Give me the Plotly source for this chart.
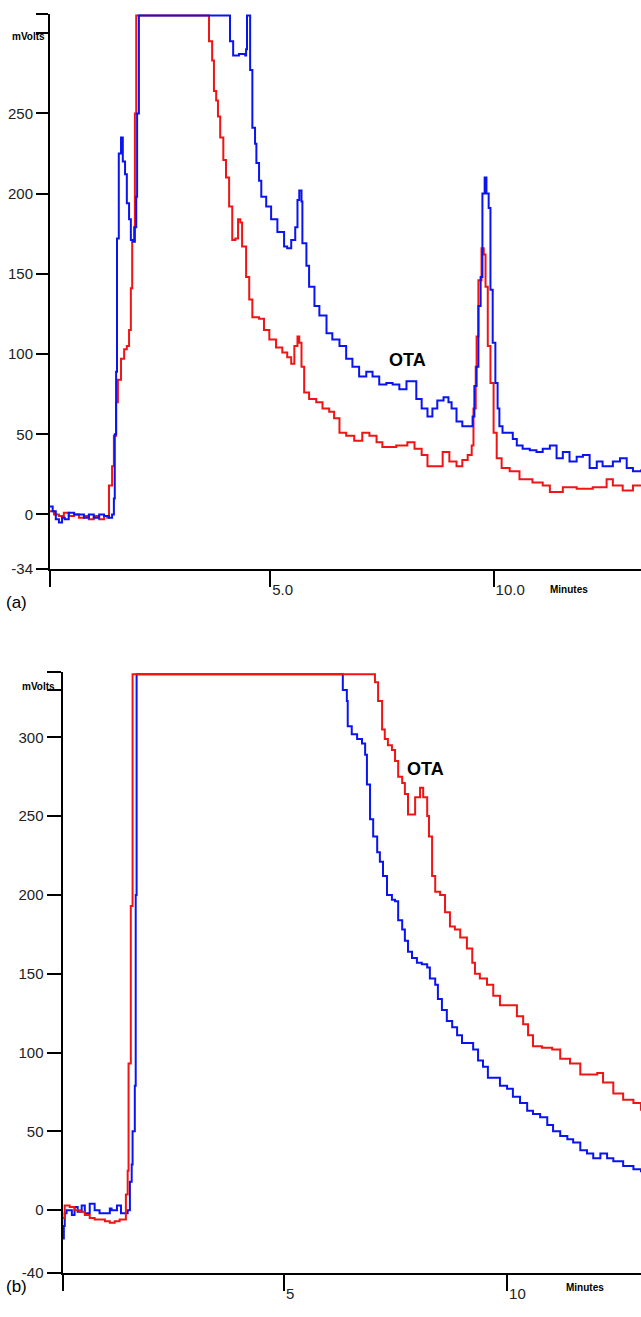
import plotly.graph_objects as go

# ---------------- Panel (a) ----------------
a_blue_t = [0.07, 0.13, 0.20, 0.27, 0.34, 0.40, 0.49, 0.61, 0.72, 0.83, 0.94, 1.05, 1.17, 1.28, 1.39, 1.46,
            1.50, 1.52, 1.55, 1.57, 1.61, 1.66, 1.70, 1.75, 1.79, 1.84, 1.88, 1.93, 1.97, 2.00, 2.02, 2.06,
            4.06, 4.10, 4.17, 4.30, 4.44, 4.46, 4.48, 4.53, 4.55, 4.60, 4.66, 4.69, 4.75, 4.80, 4.91, 5.02,
            5.16, 5.31, 5.38, 5.47, 5.56, 5.61, 5.65, 5.70, 5.72, 5.81, 5.87, 5.99, 6.10, 6.26, 6.39, 6.55,
            6.70, 6.84, 6.99, 7.15, 7.29, 7.44, 7.60, 7.74, 7.89, 8.05, 8.18, 8.27, 8.39, 8.52, 8.63, 8.74,
            8.88, 8.99, 9.06, 9.17, 9.30, 9.46, 9.53, 9.57, 9.62, 9.66, 9.71, 9.75, 9.80, 9.84, 9.89, 9.93,
            9.98, 10.04, 10.09, 10.13, 10.20, 10.31, 10.43, 10.52, 10.65, 10.81, 10.96, 11.10, 11.26, 11.41,
            11.55, 11.70, 11.86, 12.00, 12.15, 12.31, 12.44, 12.67, 12.83, 12.98, 13.12, 13.30]
a_blue_v = [5, 2, -3, -5, -2, -3, 1, 0, 0, -2, 0, -2, 0, -1, -2, 0,
            10, 50, 89, 172, 225, 235, 220, 212, 194, 184, 171, 170, 179, 198, 250, 311,
            311, 295, 286, 287, 286, 290, 311, 311, 277, 241, 231, 219, 208, 198, 192, 184,
            176, 167, 166, 171, 179, 196, 202, 195, 169, 155, 142, 130, 124, 113, 109, 105,
            97, 92, 86, 89, 86, 81, 82, 81, 78, 83, 83, 72, 66, 61, 66, 71,
            73, 70, 66, 58, 55, 55, 61, 80, 92, 130, 148, 200, 210, 200, 191, 140,
            107, 82, 66, 55, 51, 51, 47, 43, 41, 40, 39, 41, 43, 35,
            39, 33, 36, 37, 29, 33, 30, 33, 35, 29, 27, 28]

a_red_t = [0.07, 0.16, 0.27, 0.38, 0.49, 0.61, 0.72, 0.83, 0.94, 1.05, 1.17, 1.28, 1.35, 1.39, 1.46, 1.50,
           1.55, 1.59, 1.66, 1.73, 1.79, 1.84, 1.88, 1.91, 1.95, 1.97, 2.00,
           3.56, 3.63, 3.70, 3.74, 3.79, 3.83, 3.88, 3.95, 4.01, 4.08, 4.15, 4.22, 4.28, 4.33, 4.37, 4.46,
           4.53, 4.60, 4.75, 4.86, 4.98, 5.13, 5.27, 5.38, 5.47, 5.54, 5.61, 5.65, 5.70, 5.76, 5.87, 6.03,
           6.17, 6.32, 6.43, 6.55, 6.70, 6.88, 7.06, 7.22, 7.38, 7.51, 7.67, 7.82, 7.96, 8.07, 8.23, 8.39,
           8.52, 8.72, 8.86, 9.01, 9.17, 9.30, 9.42, 9.51, 9.55, 9.60, 9.62, 9.66, 9.73, 9.78, 9.82, 9.87,
           9.93, 10.00, 10.07, 10.18, 10.36, 10.58, 10.87, 11.10, 11.26, 11.55, 11.86, 12.22, 12.53, 12.67,
           12.89, 13.12, 13.30]
a_red_v = [2, 0, -1, 1, -1, 0, -2, -1, -3, -1, -3, -1, -2, 18, 30, 49,
           70, 84, 97, 103, 105, 115, 141, 171, 179, 250, 311,
           311, 295, 283, 264, 258, 248, 235, 221, 210, 192, 171, 172, 184, 182, 167, 148,
           134, 123, 122, 115, 109, 104, 101, 98, 94, 105, 111, 107, 92, 76, 72, 70,
           66, 64, 60, 51, 49, 46, 51, 49, 45, 42, 42, 43, 43, 45, 41, 37,
           30, 30, 39, 33, 30, 34, 37, 43, 66, 92, 111, 146, 166, 162, 142, 105,
           82, 51, 35, 29, 27, 22, 20, 18, 14, 17, 16, 17, 22, 18,
           15, 18, 18]

# ---------------- Panel (b) ----------------
b_blue_t = [0.04, 0.07, 0.09, 0.13, 0.25, 0.31, 0.38, 0.47, 0.54, 0.65, 0.76, 0.87, 0.99, 1.10, 1.14, 1.26,
            1.35, 1.43, 1.50, 1.55, 1.59, 1.61, 1.66, 1.68, 1.70,
            6.28, 6.32, 6.41, 6.43, 6.52, 6.64, 6.75, 6.82, 6.86, 6.93, 7.00, 7.09, 7.15, 7.22, 7.31, 7.42,
            7.49, 7.56, 7.65, 7.71, 7.78, 7.87, 7.98, 8.09, 8.21, 8.27, 8.39, 8.45, 8.54, 8.65, 8.77, 8.88,
            8.99, 9.10, 9.24, 9.35, 9.46, 9.57, 9.69, 9.84, 10.00, 10.13, 10.29, 10.45, 10.58, 10.74, 10.90,
            11.03, 11.19, 11.35, 11.48, 11.64, 11.79, 11.93, 12.09, 12.24, 12.38, 12.60, 12.83, 13.00]
b_blue_v = [-18, -10, -2, 0, -3, 2, -1, 3, -2, 4, 0, -2, -2, 1, 0, 3,
            -2, -2, 0, 18, 29, 50, 79, 200, 340,
            340, 330, 323, 307, 302, 299, 296, 289, 270, 248, 237, 227, 221, 212, 200, 197,
            196, 184, 178, 171, 164, 160, 157, 156, 154, 147, 143, 134, 127, 120, 116, 111,
            106, 106, 102, 95, 91, 84, 84, 79, 77, 72, 68, 63, 61, 59, 54,
            50, 47, 45, 43, 38, 36, 33, 36, 33, 31, 28, 26, 24]

b_red_t = [0.04, 0.09, 0.20, 0.31, 0.43, 0.54, 0.65, 0.76, 0.87, 0.99, 1.10, 1.21, 1.32, 1.41, 1.46, 1.50,
           1.52, 1.57, 1.61,
           7.00, 7.04, 7.11, 7.20, 7.26, 7.33, 7.42, 7.49, 7.56, 7.65, 7.71, 7.78, 7.87, 7.94, 8.05, 8.12,
           8.21, 8.25, 8.32, 8.39, 8.50, 8.61, 8.72, 8.83, 8.95, 9.10, 9.22, 9.28, 9.39, 9.55, 9.69, 9.84,
           10.07, 10.22, 10.36, 10.47, 10.58, 10.78, 11.01, 11.19, 11.41, 11.64, 11.86, 12.02, 12.15, 12.26,
           12.38, 12.60, 12.83, 13.00]
b_red_v = [-5, 3, 2, 0, -1, -3, -5, -6, -6, -7, -8, -7, -6, -6, 10, 25,
           93, 193, 340,
           340, 335, 323, 305, 299, 295, 292, 285, 275, 271, 264, 251, 251, 262, 268, 262,
           250, 237, 212, 202, 200, 189, 180, 178, 173, 166, 157, 150, 147, 143, 136, 130,
           130, 123, 118, 111, 104, 103, 102, 96, 93, 86, 86, 87, 81, 81,
           74, 70, 68, 63]

# tick definitions
a_ytick_vals = [-34, 0, 50, 100, 150, 200, 250, 300, 311.9]
a_ytick_text = ["-34", "0", "50", "100", "150", "200", "250", "", ""]
a_xtick_vals = [0.07, 5, 10]
a_xtick_text = ["", "5.0", "10.0"]
b_ytick_vals = [-40, 0, 50, 100, 150, 200, 250, 300, 330, 341.4]
b_ytick_text = ["-40", "0", "50", "100", "150", "200", "250", "300", "", ""]
b_xtick_vals = [0.04, 5, 10]
b_xtick_text = ["", "5", "10"]

BLUE = "#0a14f0"
RED = "#f01414"
FONT = "Liberation Sans, Arial, sans-serif"
W, H = 641, 1317

fig = go.Figure()
fig.add_trace(go.Scatter(x=a_red_t, y=a_red_v, mode="lines", line=dict(color=RED, width=2, shape="hv"),
                         xaxis="x", yaxis="y", showlegend=False))
fig.add_trace(go.Scatter(x=a_blue_t, y=a_blue_v, mode="lines", line=dict(color=BLUE, width=2, shape="hv"),
                         xaxis="x", yaxis="y", showlegend=False))
fig.add_trace(go.Scatter(x=b_blue_t, y=b_blue_v, mode="lines", line=dict(color=BLUE, width=2, shape="hv"),
                         xaxis="x2", yaxis="y2", showlegend=False))
fig.add_trace(go.Scatter(x=b_red_t, y=b_red_v, mode="lines", line=dict(color=RED, width=2, shape="hv"),
                         xaxis="x2", yaxis="y2", showlegend=False))

common_axis = dict(showgrid=False, zeroline=False, showline=True, linecolor="black", linewidth=2,
                   ticks="outside", tickcolor="black", tickwidth=2,
                   tickfont=dict(family=FONT, size=15, color="#222"))

fig.update_layout(
    width=W, height=H, margin=dict(l=0, r=0, t=0, b=0),
    paper_bgcolor="white", plot_bgcolor="white",
    xaxis=dict(common_axis, domain=[50 / W, 1], range=[0.07, 13.3], anchor="y",
               tickmode="array", tickvals=a_xtick_vals, ticktext=a_xtick_text, ticklen=16,
               ticklabelposition="outside right", ticklabelstandoff=6),
    yaxis=dict(common_axis, domain=[1 - 572.5 / H, 1 - 14 / H], range=[-34, 312], anchor="x",
               tickmode="array", tickvals=a_ytick_vals, ticktext=a_ytick_text, ticklen=12),
    xaxis2=dict(common_axis, domain=[62.5 / W, 1], range=[0.04, 13.0], anchor="y2",
                tickmode="array", tickvals=b_xtick_vals, ticktext=b_xtick_text, ticklen=16,
                ticklabelposition="outside right", ticklabelstandoff=6),
    yaxis2=dict(common_axis, domain=[1 - 1281 / H, 1 - 676 / H], range=[-40, 341.5], anchor="x2",
                tickmode="array", tickvals=b_ytick_vals, ticktext=b_ytick_text, ticklen=14),
)

ann_font = dict(family=FONT, size=18, color="black")
small_font = dict(family=FONT, size=10, color="black", weight="bold")
label_font = dict(family=FONT, size=17, color="black")

fig.add_annotation(x=8.07, y=96, xref="x", yref="y", text="<b>OTA</b>", showarrow=False, font=ann_font)
fig.add_annotation(x=8.18, y=280, xref="x2", yref="y2", text="<b>OTA</b>", showarrow=False, font=ann_font)
fig.add_annotation(x=11.68, y=1 - 593 / H, xref="x", yref="paper", text="Minutes", showarrow=False,
                   xanchor="center", font=small_font)
fig.add_annotation(x=11.75, y=1 - 1303 / H, xref="x2", yref="paper", text="Minutes", showarrow=False,
                   xanchor="center", font=small_font)
fig.add_annotation(x=47 / W, y=1 - 29 / H, xref="paper", yref="paper", text="mVolts", showarrow=False,
                   xanchor="right", font=small_font)
fig.add_annotation(x=57 / W, y=1 - 691 / H, xref="paper", yref="paper", text="mVolts", showarrow=False,
                   xanchor="right", font=small_font)
fig.add_annotation(x=4 / W, y=1 - 606 / H, xref="paper", yref="paper", text="(a)", showarrow=False,
                   xanchor="left", font=label_font)
fig.add_annotation(x=4 / W, y=1 - 1306 / H, xref="paper", yref="paper", text="(b)", showarrow=False,
                   xanchor="left", font=label_font)

fig.write_html("out.html", config={"displayModeBar": False},
               post_script="document.body.style.margin='0';document.body.style.overflow='hidden';")
